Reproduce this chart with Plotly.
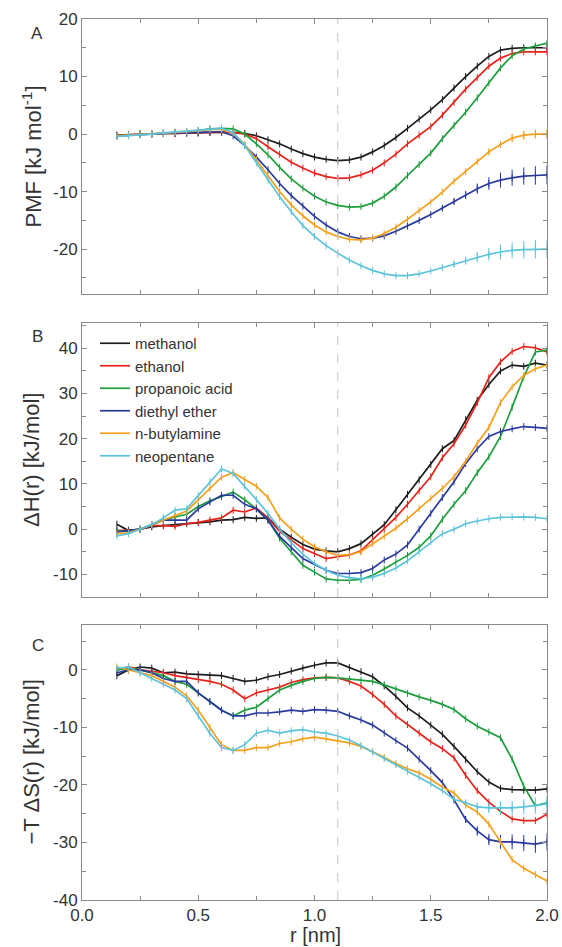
import plotly.graph_objects as go
from plotly.subplots import make_subplots

r = [0.15, 0.20, 0.25, 0.30, 0.35, 0.40, 0.45, 0.50, 0.55, 0.60, 0.65, 0.70, 0.75,
     0.80, 0.85, 0.90, 0.95, 1.00, 1.05, 1.10, 1.15, 1.20, 1.25, 1.30, 1.35, 1.40,
     1.45, 1.50, 1.55, 1.60, 1.65, 1.70, 1.75, 1.80, 1.85, 1.90, 1.95, 2.00]

names = ["methanol", "ethanol", "propanoic acid", "diethyl ether", "n-butylamine", "neopentane"]
colors = ["#1c1c1c", "#e3241b", "#1d9e3c", "#2a3a9c", "#f4a01c", "#5cc3dc"]

# tick labels (plain hyphen as in the figure)
x_ticks = [0.0, 0.5, 1.0, 1.5, 2.0]
x_ticktext = ["0.0", "0.5", "1.0", "1.5", "2.0"]
a_ticks = [-20, -10, 0, 10, 20]
a_ticktext = ["-20", "-10", "0", "10", "20"]
b_ticks = [-10, 0, 10, 20, 30, 40]
b_ticktext = ["-10", "0", "10", "20", "30", "40"]
c_ticks = [-40, -30, -20, -10, 0]
c_ticktext = ["-40", "-30", "-20", "-10", "0"]

# panel A: PMF
pmf_methanol = [-0.2, -0.1, 0.0, 0.0, 0.1, 0.1, 0.2, 0.2, 0.3, 0.3, 0.3, 0.1, -0.3, -1.0, -1.7, -2.6, -3.4, -4.0, -4.4,
                -4.6, -4.5, -4.0, -3.1, -2.0, -0.6, 1.0, 2.6, 4.2, 6.0, 8.0, 10.0, 11.8, 13.5, 14.6, 14.9, 15.0, 15.0, 15.0]
pmf_ethanol = [-0.2, -0.1, 0.0, 0.0, 0.1, 0.1, 0.2, 0.2, 0.3, 0.3, 0.3, 0.0, -0.8, -2.2, -3.5, -4.9, -5.9, -6.8, -7.4,
               -7.7, -7.6, -7.1, -6.3, -5.0, -3.5, -1.7, -0.2, 1.3, 3.3, 5.5, 7.8, 9.8, 11.8, 13.2, 14.0, 14.3, 14.3, 14.3]
pmf_propanoic = [-0.3, -0.2, 0.0, 0.1, 0.2, 0.3, 0.4, 0.6, 0.9, 1.0, 0.9, 0.0, -1.7, -3.6, -5.8, -7.8, -9.4, -10.8, -11.8,
                 -12.4, -12.7, -12.6, -12.0, -10.8, -9.2, -7.2, -5.3, -3.3, -0.8, 1.5, 3.8, 6.3, 8.9, 11.5, 13.6, 14.8, 15.3, 15.8]
pmf_diethyl = [-0.3, -0.2, 0.0, 0.0, 0.1, 0.2, 0.2, 0.3, 0.4, 0.4, -0.3, -2.0, -4.0, -6.2, -8.6, -10.7, -12.5, -14.3, -15.8,
               -17.0, -17.8, -18.2, -18.1, -17.7, -16.9, -16.0, -15.0, -14.0, -12.9, -11.7, -10.6, -9.5, -8.6, -8.0, -7.6, -7.3, -7.2, -7.1]
pmf_butylamine = [-0.3, -0.2, 0.0, 0.1, 0.2, 0.3, 0.4, 0.6, 0.8, 0.8, 0.2, -1.8, -4.5, -7.1, -10.0, -12.3, -14.2, -15.8, -17.0,
                  -17.8, -18.3, -18.4, -18.1, -17.3, -16.2, -14.8, -13.3, -11.8, -10.1, -8.2, -6.5, -4.8, -3.1, -1.8, -0.7, -0.2, 0.0, 0.0]
pmf_neopentane = [-0.4, -0.3, -0.1, 0.0, 0.2, 0.3, 0.5, 0.7, 0.9, 1.0, 0.3, -2.0, -5.0, -8.0, -10.9, -13.5, -15.9, -17.8, -19.4,
                  -20.7, -21.9, -22.9, -23.7, -24.3, -24.6, -24.6, -24.3, -23.8, -23.2, -22.6, -22.0, -21.4, -20.9, -20.5, -20.2, -20.1, -20.0, -20.0]

# error bars visible at the tail of panel A
err_a_diethyl = [0] * 28 + [0.4, 0.5, 0.7, 0.9, 1.1, 1.3, 1.4, 1.5, 1.6, 1.6]
err_a_butylamine = [0] * 30 + [0.3, 0.4, 0.5, 0.6, 0.7, 0.8, 0.8, 0.8]
err_a_neopentane = [0] * 28 + [0.4, 0.5, 0.7, 0.9, 1.1, 1.3, 1.4, 1.5, 1.6, 1.6]

# panel B: enthalpy
dh_methanol = [1.1, -0.3, 0.0, 0.5, 0.8, 1.0, 1.3, 1.5, 1.6, 2.0, 2.1, 2.6, 2.4, 2.5, 0.0, -1.8, -3.4, -4.4, -4.8,
               -5.0, -4.3, -3.2, -1.1, 1.0, 4.3, 7.7, 10.9, 14.3, 17.8, 19.6, 24.2, 28.5, 32.0, 35.0, 36.3, 36.0, 36.7, 36.3]
dh_ethanol = [-0.3, -0.2, -0.1, 0.8, 0.8, 0.6, 1.2, 1.5, 2.0, 2.5, 4.2, 3.8, 4.7, 2.5, -0.5, -2.5, -4.3, -5.4, -6.5,
              -6.1, -5.7, -4.8, -2.4, 0.0, 2.6, 5.5, 8.5, 11.6, 15.8, 18.9, 23.0, 28.0, 33.5, 37.0, 39.3, 40.4, 40.1, 39.2]
dh_propanoic = [-0.3, -0.5, 0.0, 1.0, 2.0, 2.7, 3.3, 5.0, 6.3, 7.2, 8.2, 6.5, 4.5, 2.0, -2.0, -5.0, -8.0, -9.5, -11.0,
                -11.3, -11.3, -11.1, -10.2, -8.8, -7.3, -5.8, -4.0, -1.5, 2.2, 5.5, 8.5, 12.5, 16.0, 20.5, 27.0, 33.7, 39.2, 39.6]
dh_diethyl = [-0.6, -0.3, 0.0, 1.0, 2.0, 2.0, 2.0, 4.5, 6.0, 7.5, 7.5, 5.5, 4.5, 2.0, -1.6, -4.0, -6.5, -7.8, -9.1,
              -9.8, -9.8, -9.6, -8.7, -6.8, -5.5, -3.5, 0.0, 3.5, 7.0, 10.5, 14.5, 17.8, 20.5, 21.6, 22.2, 22.7, 22.5, 22.3]
dh_butylamine = [-1.0, -0.8, 0.0, 1.0, 2.0, 3.0, 4.0, 6.5, 9.0, 11.5, 12.5, 11.0, 9.5, 7.0, 2.5, 0.0, -2.2, -3.9, -5.0,
                 -5.8, -5.6, -5.0, -3.2, -1.6, 0.2, 2.3, 4.6, 6.9, 9.0, 11.6, 15.0, 19.0, 22.5, 28.0, 31.5, 34.0, 35.5, 36.3]
dh_neopentane = [-1.5, -1.0, 0.0, 1.0, 2.5, 4.2, 4.5, 7.5, 10.5, 13.3, 12.3, 9.5, 6.5, 3.5, 0.0, -3.0, -5.5, -7.6, -9.1,
                 -10.2, -10.7, -11.0, -10.6, -9.8, -8.6, -7.0, -5.0, -2.8, -1.0, 0.0, 1.2, 1.8, 2.3, 2.6, 2.7, 2.7, 2.6, 2.3]

# panel C: entropy term
ts_methanol = [-1.0, 0.0, 0.5, 0.3, -0.5, -0.4, -0.7, -0.8, -1.0, -1.0, -1.5, -2.0, -1.8, -1.2, -0.8, -0.2, 0.3, 0.8, 1.2,
               1.2, 0.4, -0.3, -1.2, -2.8, -4.6, -6.6, -8.0, -9.6, -11.2, -13.3, -15.6, -17.7, -19.5, -20.6, -20.8, -20.9, -20.9, -20.7]
ts_ethanol = [0.0, 0.5, 0.0, -0.3, -0.5, -1.0, -1.3, -1.7, -2.0, -2.5, -3.5, -5.0, -4.0, -3.5, -3.0, -2.2, -1.7, -1.4, -1.3,
              -1.4, -2.0, -2.8, -4.3, -6.0, -8.0, -9.5, -11.0, -12.5, -13.7, -15.3, -18.3, -21.0, -23.0, -24.6, -25.9, -26.2, -26.2, -25.1]
ts_propanoic = [0.0, 0.3, 0.0, -0.5, -1.0, -2.0, -2.5, -4.0, -5.5, -7.0, -8.0, -7.0, -6.5, -5.0, -3.5, -2.7, -2.0, -1.5, -1.3,
                -1.4, -1.6, -1.8, -2.0, -2.6, -3.3, -4.1, -4.7, -5.3, -6.0, -6.9, -8.5, -9.8, -10.8, -11.8, -15.5, -20.2, -23.6, -23.1]
ts_diethyl = [-0.5, 0.0, 0.0, -0.5, -1.5, -2.0, -2.0, -4.0, -5.5, -7.0, -8.0, -8.0, -7.5, -7.5, -7.3, -7.0, -7.2, -6.9, -7.0,
              -7.2, -8.0, -8.7, -9.6, -11.0, -12.3, -13.6, -15.5, -17.5, -19.6, -22.6, -26.0, -28.0, -29.5, -29.9, -29.9, -30.1, -30.3, -29.9]
ts_butylamine = [0.5, 0.0, -0.5, -1.0, -2.0, -3.0, -4.5, -7.0, -10.0, -13.0, -14.0, -14.0, -13.5, -13.5, -12.8, -12.5, -12.0, -11.7, -12.0,
                 -12.4, -12.7, -13.3, -14.2, -15.2, -16.3, -17.2, -17.9, -19.0, -20.4, -21.4, -23.5, -24.7, -26.8, -29.8, -33.0, -34.5, -35.6, -36.7]
ts_neopentane = [0.3, 0.5, -0.5, -1.5, -2.5, -3.5, -5.0, -8.0, -11.0, -13.5, -14.0, -13.0, -11.0, -10.5, -11.0, -10.6, -10.4, -10.8, -11.0,
                 -11.5, -12.2, -13.2, -14.3, -15.4, -16.5, -17.6, -18.6, -19.8, -21.0, -22.5, -23.1, -23.8, -24.0, -24.0, -24.0, -23.8, -23.6, -23.3]

err_c_diethyl = [0] * 30 + [0.6, 0.8, 1.0, 1.2, 1.3, 1.4, 1.5, 1.5]
err_c_neopentane = [0] * 30 + [0.5, 0.7, 0.9, 1.1, 1.2, 1.3, 1.4, 1.4]

panel_a = [pmf_methanol, pmf_ethanol, pmf_propanoic, pmf_diethyl, pmf_butylamine, pmf_neopentane]
panel_b = [dh_methanol, dh_ethanol, dh_propanoic, dh_diethyl, dh_butylamine, dh_neopentane]
panel_c = [ts_methanol, ts_ethanol, ts_propanoic, ts_diethyl, ts_butylamine, ts_neopentane]
errs_a = [None, None, None, err_a_diethyl, err_a_butylamine, err_a_neopentane]
errs_c = [None, None, None, err_c_diethyl, None, err_c_neopentane]

FONT = "Liberation Sans, Arial, sans-serif"
TEXT = "#333333"
AXIS_GREY = "#8a8a8a"

# layout measured in window pixels (body margin is removed below)
W, H = 562, 947
L, R = 82, 547
panels_px = [(19, 294), (323, 597), (625, 900)]
T, B = panels_px[0][0], panels_px[2][1]


def py_to_paper(py):
    return (B - py) / (B - T)


def px_to_paper(px):
    return (px - L) / (R - L)


fig = make_subplots(rows=3, cols=1)

for row, panel, errs in [(1, panel_a, errs_a), (2, panel_b, [None] * 6), (3, panel_c, errs_c)]:
    for i, ys in enumerate(panel):
        err = errs[i]
        fig.add_trace(
            go.Scatter(
                x=r, y=ys, mode="lines+markers", name=names[i], showlegend=False,
                line=dict(color=colors[i], width=1.7),
                marker=dict(symbol="line-ns", size=5, line=dict(color=colors[i], width=1)),
                error_y=dict(type="data", array=err, color=colors[i], thickness=1, width=0, visible=err is not None),
            ),
            row=row, col=1,
        )
    fig.add_vline(x=1.1, line_width=1, line_dash="dash", line_color="#c4c4c4", row=row, col=1)

# legend-only entries (plain lines, as in the figure)
for i, nm in enumerate(names):
    fig.add_trace(
        go.Scatter(x=[None], y=[None], mode="lines", name=nm, line=dict(color=colors[i], width=1.7)),
        row=2, col=1,
    )

yranges = [(-27.8, 20), (-15, 45.6), (-40, 7.8)]
yticks = [(a_ticks, a_ticktext), (b_ticks, b_ticktext), (c_ticks, c_ticktext)]
ytitles = ["PMF [kJ mol<sup>-1</sup>]", "ΔH(r) [kJ/mol]", "−T ΔS(r) [kJ/mol]"]

for k in range(3):
    xa = "xaxis" if k == 0 else f"xaxis{k + 1}"
    ya = "yaxis" if k == 0 else f"yaxis{k + 1}"
    top, bot = panels_px[k]
    fig.layout[xa].update(
        range=[0, 2], tickvals=x_ticks, ticktext=x_ticktext, ticks="inside", ticklen=5, tickcolor=AXIS_GREY,
        showline=True, linecolor=AXIS_GREY, linewidth=1, mirror="ticks", showgrid=False, zeroline=False,
        showticklabels=(k == 2), automargin=False, ticklabelstandoff=0,
        tickfont=dict(size=17, color=TEXT, family=FONT),
        minor=dict(dtick=0.25, tick0=0, ticks="inside", ticklen=4, tickcolor=AXIS_GREY, showgrid=False),
    )
    fig.layout[ya].update(
        domain=[py_to_paper(bot), py_to_paper(top)], range=list(yranges[k]),
        tickvals=yticks[k][0], ticktext=yticks[k][1], ticks="inside", ticklen=5, tickcolor=AXIS_GREY,
        showline=True, linecolor=AXIS_GREY, linewidth=1, mirror="ticks", showgrid=False, zeroline=False,
        automargin=False, tickfont=dict(size=17, color=TEXT, family=FONT),
        minor=dict(dtick=5, tick0=0, ticks="inside", ticklen=4, tickcolor=AXIS_GREY, showgrid=False),
    )
    fig.add_annotation(
        text=ytitles[k], xref="paper", yref="paper", x=px_to_paper(31), y=py_to_paper((top + bot) / 2),
        xanchor="center", yanchor="middle", textangle=-90, showarrow=False,
        font=dict(size=22, color=TEXT, family=FONT),
    )

fig.add_annotation(
    text="r [nm]", xref="paper", yref="paper", x=px_to_paper(315), y=py_to_paper(935),
    xanchor="center", yanchor="middle", showarrow=False, font=dict(size=20, color=TEXT, family=FONT),
)

for label, px, py in [("A", 37, 33), ("B", 37, 336), ("C", 38, 645)]:
    fig.add_annotation(
        text=label, xref="paper", yref="paper", x=px_to_paper(px), y=py_to_paper(py),
        xanchor="center", yanchor="middle", showarrow=False, font=dict(size=17, color=TEXT, family=FONT),
    )

fig.update_layout(
    width=W, height=H,
    margin=dict(l=L, r=W - R, t=T, b=H - B, autoexpand=False),
    paper_bgcolor="white", plot_bgcolor="white",
    font=dict(family=FONT, color=TEXT),
    legend=dict(
        x=px_to_paper(95), y=py_to_paper(327), xanchor="left", yanchor="top", bgcolor="rgba(0,0,0,0)",
        font=dict(size=15, color=TEXT, family=FONT), itemwidth=30, tracegroupgap=0,
    ),
)

fig.write_html("out.html", config={"displayModeBar": False},
               post_script="document.body.style.margin='0';")
